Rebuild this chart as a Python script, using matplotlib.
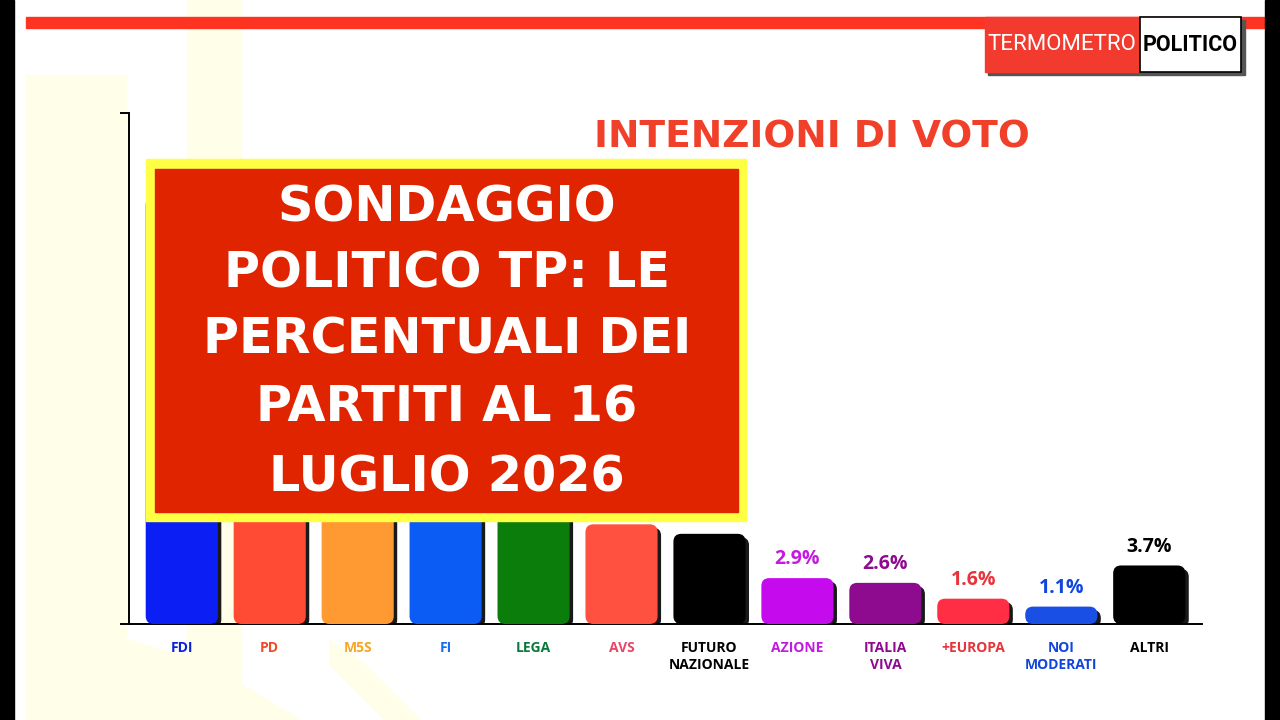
import matplotlib
matplotlib.use("Agg")
import matplotlib.pyplot as plt
from matplotlib.patches import FancyBboxPatch, Rectangle, Polygon
import matplotlib.patheffects as pe

# ---------------- data ----------------
parties = ["FDI", "PD", "M5S", "FI", "LEGA", "AVS", "FUTURO\nNAZIONALE",
           "AZIONE", "ITALIA\nVIVA", "+EUROPA", "NOI\nMODERATI", "ALTRI"]
values = [27.0, 22.0, 12.3, 8.6, 8.1, 6.3, 5.7, 2.9, 2.6, 1.6, 1.1, 3.7]
# value labels of the first seven bars are hidden behind the banner in the reference
show_value = [False, False, False, False, False, False, False,
              True, True, True, True, True]
bar_colors = ["#0b1ff5", "#ff4b33", "#ff9a33", "#0a5cf5", "#0a7d0a", "#ff5040",
              "#000000", "#c60aee", "#8e0a8e", "#ff2e45", "#1a4fe6", "#000000"]
label_colors = ["#0a23d9", "#f04a2a", "#f5a623", "#1a6df0", "#0a7a3a", "#e8456a",
                "#000000", "#c41ae0", "#8e0a8e", "#e8333d", "#1046e0", "#000000"]
title = "INTENZIONI DI VOTO"
banner_lines = ["SONDAGGIO", "POLITICO TP: LE", "PERCENTUALI DEI",
                "PARTITI AL 16", "LUGLIO 2026"]

W, H = 1280, 720
fig = plt.figure(figsize=(12.8, 7.2), dpi=100)
fig.patch.set_facecolor("white")

def fx(px):
    return px / W

def fy(py):
    return 1 - py / H

pale = "#fffee8"
# background watermark shapes
fig.add_artist(Rectangle((fx(26), 0), fx(126) - fx(26), fy(75), color=pale, zorder=0))
fig.add_artist(Rectangle((fx(187), 0), fx(241) - fx(187), 1, color=pale, zorder=0))
fig.add_artist(Polygon([(fx(126), fy(640)), (fx(200), fy(660)), (fx(300), fy(720)),
                        (fx(126), fy(720))], closed=True, color=pale, zorder=0))
fig.add_artist(Polygon([(fx(330), fy(640)), (fx(360), fy(660)), (fx(420), fy(720)),
                        (fx(385), fy(720)), (fx(330), fy(665))], closed=True, color=pale, zorder=0))

# black side strips
fig.add_artist(Rectangle((0, 0), fx(14), 1, color="black", zorder=5))
fig.add_artist(Rectangle((fx(1265), 0), 1 - fx(1265), 1, color="black", zorder=5))

# top red line
fig.add_artist(Rectangle((fx(26), fy(28)), fx(1265) - fx(26), fy(17) - fy(28),
                         color="#ff3322", zorder=2))

# logo
fig.add_artist(Rectangle((fx(988), fy(75)), fx(1245) - fx(988), fy(20) - fy(75),
                         color="#555555", zorder=3))
fig.add_artist(Rectangle((fx(985), fy(72)), fx(1140) - fx(985), fy(17) - fy(72),
                         color="#f23a2e", zorder=4))
fig.add_artist(Rectangle((fx(1140), fy(72)), fx(1241) - fx(1140), fy(17) - fy(72),
                         facecolor="white", edgecolor="black", linewidth=1.2, zorder=4))
fig.text(fx(1062), fy(45), "TERMOMETRO", color="white", fontsize=16,
         family="Roboto", fontweight="normal", ha="center", va="center", zorder=6)
fig.text(fx(1190), fy(45), "POLITICO", color="black", fontsize=15.5,
         family="Roboto", fontweight="bold", ha="center", va="center", zorder=6)

# ---------------- chart ----------------
ax = fig.add_axes([fx(129), fy(624), fx(1202) - fx(129), fy(113) - fy(624)])
ax.set_facecolor("none")
ymax = 32.3
ax.set_xlim(-0.6, 11.6)
ax.set_ylim(0, ymax)

x = list(range(len(values)))
bars = ax.bar(x, values, width=0.82, color=bar_colors, alpha=0)

# rounded bars with shadow, using bar geometry
x_px_per_unit = (1202 - 129) / 12.2
y_px_per_unit = (624 - 113) / ymax
aspect = x_px_per_unit / y_px_per_unit
for b, c in zip(bars, bar_colors):
    p = FancyBboxPatch((b.get_x(), b.get_y()), b.get_width(), b.get_height(),
                       boxstyle="round,pad=0,rounding_size=0.09",
                       mutation_aspect=aspect, facecolor=c, edgecolor="none",
                       zorder=3)
    p.set_path_effects([pe.SimplePatchShadow(offset=(2.5, -2.5), shadow_rgbFace="black",
                                             alpha=0.9), pe.Normal()])
    ax.add_patch(p)

for xi, v, c, show in zip(x, values, label_colors, show_value):
    if show:
        ax.annotate(f"{v:.1f}%", (xi, v), xytext=(0, 10), textcoords="offset points",
                    ha="center", va="baseline", color=c, fontsize=14, fontweight="bold",
                    family="Open Sans", zorder=4)

for s in ["top", "right"]:
    ax.spines[s].set_visible(False)
ax.spines["left"].set_linewidth(1.4)
ax.spines["bottom"].set_linewidth(1.4)
ax.set_yticks([0, ymax])
ax.set_yticklabels(["", ""])
ax.tick_params(axis="y", length=6.5, width=1.4)
ax.set_xticks(x)
ax.set_xticklabels(parties)
ax.tick_params(axis="x", length=0, pad=12)
for lab, c in zip(ax.get_xticklabels(), label_colors):
    lab.set_color(c)
    lab.set_fontweight("bold")
    lab.set_fontsize(10)
    lab.set_family("Open Sans")
    lab.set_linespacing(1.3)

# title
fig.text(fx(812), fy(137), title, color="#f0402a", fontsize=27, fontweight="bold",
         family="DejaVu Sans", ha="center", va="center", zorder=6)

# overlay banner
fig.add_artist(Rectangle((fx(146), fy(521)), fx(746) - fx(146), fy(159) - fy(521),
                         color="#ffff44", zorder=10))
fig.add_artist(Rectangle((fx(155), fy(512)), fx(738) - fx(155), fy(169) - fy(512),
                         color="#e02400", zorder=11))
for line, py in zip(banner_lines, [207, 273, 340, 408, 478]):
    fig.text(fx(447), fy(py), line, color="white", fontsize=35.5, fontweight="bold",
             family="DejaVu Sans", ha="center", va="center", zorder=12)

fig.savefig("out.png", dpi=100)
